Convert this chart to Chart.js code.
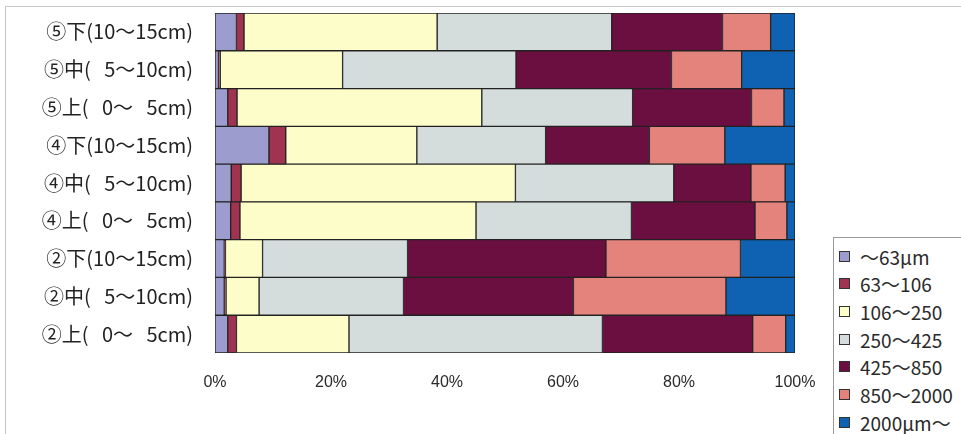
<!DOCTYPE html>
<html>
<head>
<meta charset="utf-8">
<script src="https://cdn.jsdelivr.net/npm/chart.js@4.4.0/dist/chart.umd.min.js"></script>
<style>
  html, body { margin: 0; padding: 0; background: #fff; overflow: hidden; }
  #wrap { position: relative; width: 961px; height: 434px; overflow: hidden; }
  #frame { position: absolute; left: 5px; top: 6px; width: 1000px; height: 500px;
           border-top: 1px solid #c8c8c8; border-left: 1px solid #c8c8c8; }
  #grain_chart { position: absolute; left: 0; top: 0; }
  #legend { position: absolute; left: 833px; top: 237px; width: 150px; height: 220px;
            border: 1px solid #9a9a9a; background: #fff;
            font-family: "Noto Sans CJK JP", sans-serif; font-size: 19px; color: #2a2a2a; }
  .item { position: absolute; left: 5px; height: 24px; display: flex; align-items: center; white-space: nowrap; }
  .sw { width: 9px; height: 9px; border: 1px solid #333; margin-right: 10px; flex: none; }
</style>
</head>
<body>
<div id="wrap">
  <div id="frame"></div>
  <canvas id="grain_chart" width="961" height="434"></canvas>
  <div id="legend"></div>
</div>
<script>
// sampling points, top row first (extra spaces keep the depth figures lined up)
const categories = [
  '⑤下(10～15cm)', '⑤中(   5～10cm)', '⑤上(   0～   5cm)',
  '④下(10～15cm)', '④中(   5～10cm)', '④上(   0～   5cm)',
  '②下(10～15cm)', '②中(   5～10cm)', '②上(   0～   5cm)'
];

// grain size classes
const size_labels = ['～63μm', '63～106', '106～250', '250～425', '425～850', '850～2000', '2000μm～'];
const size_colors = ['#9c9ccf', '#a0334f', '#fdfdc9', '#d5dddc', '#6a0f3f', '#e3837b', '#0f62b2'];

// percentage of each class (%)
const under63   = [3.7, 0.6, 2.2, 9.3, 2.8, 2.7, 1.6, 1.6, 2.2];
const s63_106   = [1.3, 0.3, 1.6, 2.9, 1.7, 1.6, 0.2, 0.3, 1.5];
const s106_250  = [33.3, 21.1, 42.2, 22.6, 47.3, 40.7, 6.4, 5.7, 19.4];
const s250_425  = [30.1, 29.9, 26.0, 22.2, 27.3, 26.8, 25.0, 24.9, 43.7];
const s425_850  = [19.1, 26.8, 20.5, 17.9, 13.3, 21.3, 34.2, 29.3, 25.9];
const s850_2000 = [8.3, 12.1, 5.6, 13.0, 5.9, 5.5, 23.2, 26.3, 5.7];
const over2000  = [4.2, 9.2, 1.9, 12.1, 1.7, 1.4, 9.4, 11.9, 1.6];

const x_ticks = [0, 20, 40, 60, 80, 100];

const all_series = [under63, s63_106, s106_250, s250_425, s425_850, s850_2000, over2000];

const datasets = all_series.map((vals, i) => ({
  label: size_labels[i],
  data: vals,
  backgroundColor: size_colors[i],
  borderColor: '#222',
  borderWidth: 1,
  borderSkipped: false,
  barPercentage: 1,
  categoryPercentage: 1
}));

const grain_ctx = document.getElementById('grain_chart');
const grain_chart = new Chart(grain_ctx, {
  type: 'bar',
  data: { labels: categories, datasets: datasets },
  options: {
    indexAxis: 'y',
    responsive: false,
    animation: false,
    devicePixelRatio: 1,
    layout: { padding: { left: 0, right: 166, top: 13, bottom: 21 } },
    plugins: {
      legend: { display: false },
      tooltip: { enabled: false }
    },
    scales: {
      x: {
        stacked: true,
        min: 0,
        max: 100,
        afterBuildTicks: s => { s.ticks = x_ticks.map(v => ({ value: v })); },
        afterFit: s => { s.height = 60; s.paddingLeft = 0; s.paddingRight = 0; },
        grid: { display: false, drawTicks: false },
        border: { display: false },
        ticks: {
          padding: 20,
          color: '#2a2a2a',
          font: { family: 'Liberation Sans', size: 16 },
          callback: v => v + '%'
        }
      },
      y: {
        stacked: true,
        // fixed label column; drop the extra top/bottom room added for tick padding
        afterFit: s => { s.width = 215; s.paddingTop = 0; s.paddingBottom = 0; },
        grid: { display: false, drawTicks: false },
        border: { display: false },
        ticks: {
          padding: 22,
          color: '#222',
          font: { family: 'Noto Sans CJK JP', size: 20 }
        }
      }
    }
  }
});

// legend box built from the same series names and colours
const legend_el = document.getElementById('legend');
size_labels.forEach((name, i) => {
  const item = document.createElement('div');
  item.className = 'item';
  item.style.top = (6 + i * 27.7) + 'px';
  const sw = document.createElement('span');
  sw.className = 'sw';
  sw.style.background = size_colors[i];
  const txt = document.createElement('span');
  txt.textContent = name;
  item.appendChild(sw);
  item.appendChild(txt);
  legend_el.appendChild(item);
});
</script>
</body>
</html>
